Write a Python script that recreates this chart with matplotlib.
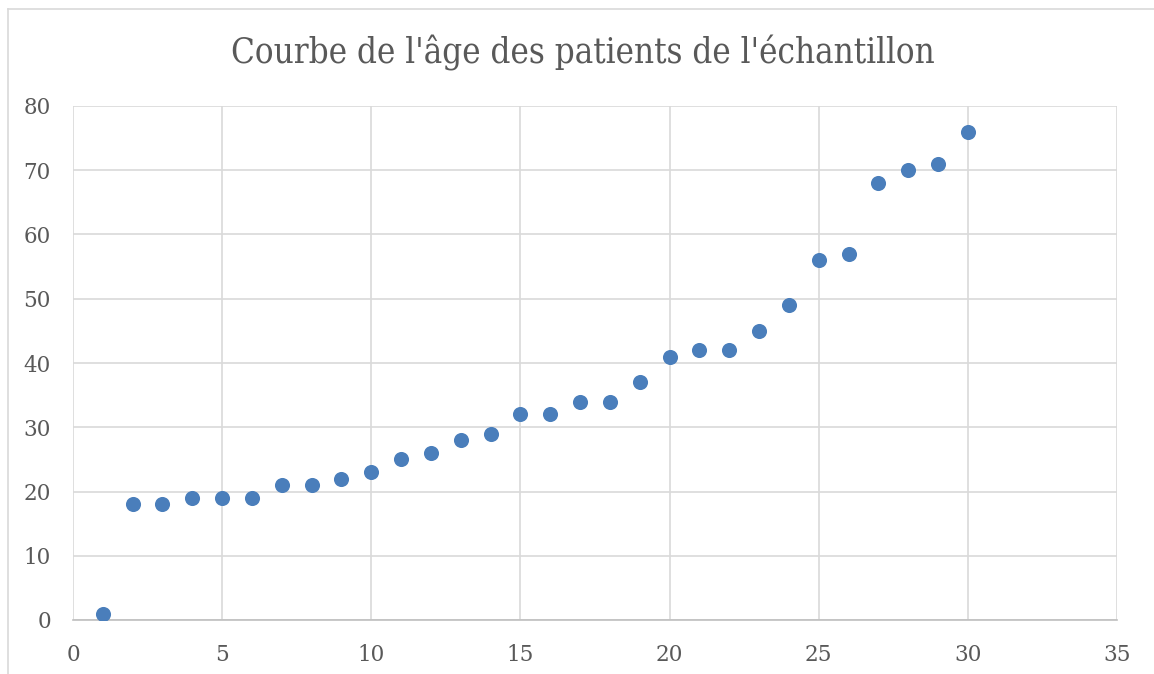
import matplotlib
matplotlib.use("Agg")
import matplotlib.pyplot as plt
from matplotlib.lines import Line2D

patients = list(range(1, 31))
ages = [1, 18, 18, 19, 19, 19, 21, 21, 22, 23, 25, 26, 28, 29, 32,
        32, 34, 34, 37, 41, 42, 42, 45, 49, 56, 57, 68, 70, 71, 76]
title = "Courbe de l'âge des patients de l'échantillon"
xticks = [0, 5, 10, 15, 20, 25, 30, 35]
yticks = [0, 10, 20, 30, 40, 50, 60, 70, 80]

W, H = 1154, 674
fig = plt.figure(figsize=(W / 100, H / 100), dpi=100)
fig.patch.set_facecolor("white")

# outer chart frame
fig.add_artist(Line2D([8 / W, 8 / W], [0, 1 - 9 / H], color="#d9d9d9", lw=1.2))
fig.add_artist(Line2D([8 / W, 1], [1 - 9 / H, 1 - 9 / H], color="#d9d9d9", lw=1.2))

ax = fig.add_axes([73 / W, 1 - 620 / H, (1117 - 73) / W, (620 - 106) / H])
ax.scatter(patients, ages, s=118, color="#4a7ebb", zorder=3, linewidths=0)
ax.set_xlim(0, 35)
ax.set_ylim(0, 80)
ax.set_xticks(xticks)
ax.set_yticks(yticks)
ax.grid(True, color="#d9d9d9", lw=1.2)
ax.set_axisbelow(True)
for s in ["top", "right", "left"]:
    ax.spines[s].set_visible(False)
ax.spines["bottom"].set_color("#bfbfbf")
ax.spines["bottom"].set_linewidth(1.2)
ax.tick_params(length=0, labelsize=15.5, labelcolor="#595959")
ax.tick_params(axis="x", pad=17)
ax.tick_params(axis="y", pad=16)
for lab in ax.get_xticklabels() + ax.get_yticklabels():
    lab.set_fontfamily("DejaVu Serif")
fig.text(0.5 + (583 - 577) / W, 1 - 53 / H, title, ha="center", va="center",
         fontsize=25, color="#595959", family="DejaVu Serif", stretch="condensed")

fig.savefig("out.png", dpi=100)
